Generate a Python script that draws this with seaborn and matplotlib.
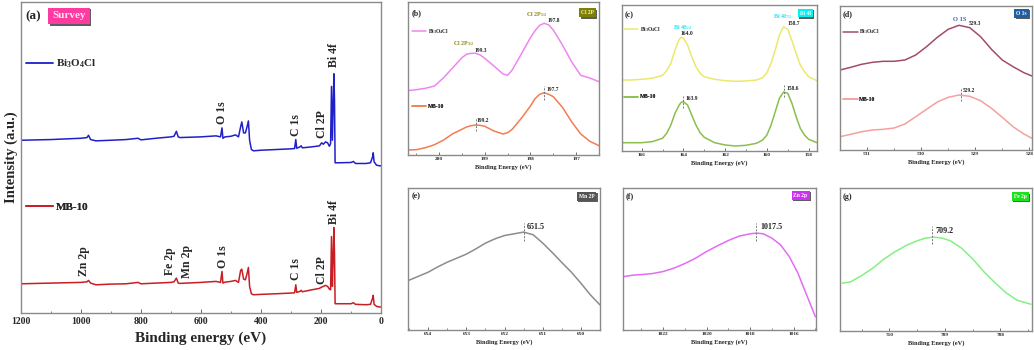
import matplotlib
matplotlib.use("Agg")
import matplotlib.pyplot as plt
import matplotlib.patheffects as pe
from matplotlib.lines import Line2D
from matplotlib.ticker import MultipleLocator
import seaborn as sns

# ---- (a) survey spectra ----
survey_be = [1200, 1100, 1000, 980, 975, 968, 950, 900, 850, 810, 800, 750, 700, 690, 682, 676, 670,
             600, 550, 535, 530, 527, 520, 500, 485, 475, 468, 464, 458, 452, 446, 442, 438, 432, 425,
             400, 350, 300, 288, 284, 281, 270, 266, 262, 230, 205, 198, 192, 185, 178, 172, 168, 165,
             162, 159, 157, 155, 153, 140, 100, 92, 85, 50, 35, 28, 26, 23, 15, 5, 0]
bi3o4cl_survey = [173.3, 174.0, 175.3, 176.0, 178.3, 174.0, 172.7, 173.3, 174.0, 175.3, 173.7, 175.3, 176.7,
                  177.3, 182.3, 176.7, 176.0, 176.7, 177.7, 176.7, 185.7, 175.3, 176.7, 177.3, 178.7, 176.7,
                  186.7, 191.7, 180.7, 180.7, 187.3, 192.7, 173.3, 164.0, 162.7, 163.3, 164.0, 164.7, 165.0,
                  174.0, 165.3, 166.7, 167.7, 165.7, 166.7, 167.7, 170.7, 169.3, 171.7, 170.7, 167.3, 170.0,
                  227.3, 173.3, 213.3, 240.0, 213.3, 150.7, 150.7, 151.0, 152.0, 150.0, 150.0, 150.7, 156.7,
                  160.7, 151.7, 148.3, 147.7, 147.7]
mb10_survey = [29.3, 30.0, 30.7, 31.3, 32.7, 30.0, 28.3, 29.0, 29.3, 30.7, 29.3, 30.0, 30.7,
               31.3, 35.0, 30.0, 29.7, 30.7, 31.7, 30.7, 41.7, 30.0, 31.0, 31.7, 32.7, 30.7,
               42.7, 44.0, 34.0, 33.3, 40.0, 45.7, 26.7, 19.3, 18.3, 18.7, 19.3, 20.0, 20.3,
               28.3, 20.7, 21.7, 22.7, 21.3, 23.3, 24.7, 26.0, 26.7, 27.7, 26.7, 24.0, 23.3,
               76.7, 26.7, 60.0, 85.7, 60.0, 9.3, 9.3, 9.3, 10.3, 8.7, 8.3, 8.7, 15.0,
               17.7, 8.7, 6.7, 6.0, 6.0]
survey_top = [("O 1s", 529, 190), ("C 1s", 284, 178), ("Cl 2P", 198, 176), ("Bi 4f", 157, 247)]
survey_bottom = [("Zn 2p", 989, 37), ("Fe 2p", 703, 38), ("Mn 2p", 648, 35), ("O 1s", 528, 45),
                 ("C 1s", 284, 33), ("Cl 2P", 196, 29), ("Bi 4f", 157, 89)]

# ---- (b) Cl 2p ----
cl_be = [200.7, 200.5, 200.3, 200.1, 199.9, 199.7, 199.5, 199.4, 199.3, 199.2, 199.1, 199.0, 198.8, 198.6,
         198.5, 198.4, 198.2, 198.0, 197.9, 197.8, 197.7, 197.6, 197.5, 197.3, 197.1, 196.9, 196.7, 196.5]
cl_bi3o4cl = [64.3, 65.3, 66.7, 69.0, 77.3, 87.3, 97.3, 100.7, 101.7, 101.7, 100.0, 96.7, 89.0, 81.0,
              79.7, 85.0, 101.0, 117.3, 124.3, 129.7, 131.7, 130.0, 125.0, 110.0, 93.3, 79.7, 77.0, 73.3]
cl_mb10 = [5.0, 5.3, 7.3, 10.3, 15.0, 21.3, 25.7, 28.0, 29.3, 30.0, 29.7, 28.7, 24.0, 21.0,
           22.3, 25.7, 36.7, 49.0, 56.3, 60.7, 62.3, 60.7, 58.3, 47.7, 33.3, 21.0, 13.7, 9.3]

# ---- (c) Bi 4f ----
bi_be = [166.9, 166.5, 166.0, 165.5, 165.0, 164.8, 164.6, 164.4, 164.2, 164.1, 164.0, 163.8, 163.6, 163.4,
         163.2, 163.0, 162.5, 162.0, 161.5, 161.0, 160.5, 160.2, 160.0, 159.8, 159.6, 159.4, 159.2, 159.0,
         158.8, 158.6, 158.4, 158.2, 158.0, 157.6]
bi_bi3o4cl = [71.0, 71.0, 71.7, 72.7, 75.7, 80.3, 87.7, 101.0, 111.7, 113.7, 113.0, 106.0, 94.3, 84.3,
              77.7, 74.3, 71.7, 70.3, 69.7, 70.0, 71.0, 73.3, 78.3, 87.7, 101.0, 116.0, 124.3, 121.7,
              110.3, 97.7, 86.0, 79.3, 74.3, 70.3]
bi_mb10 = [8.3, 8.3, 8.3, 9.3, 12.7, 17.7, 26.0, 37.7, 46.0, 48.7, 49.3, 46.0, 36.0, 26.0,
           18.3, 13.7, 8.3, 6.0, 5.0, 5.7, 7.7, 11.0, 16.0, 26.0, 39.3, 52.7, 59.0, 57.7,
           47.7, 34.3, 22.7, 16.0, 11.7, 8.3]

# ---- (d) O 1s ----
o_be = [531.5, 531.3, 531.1, 530.9, 530.7, 530.5, 530.3, 530.1, 529.9, 529.7, 529.5, 529.3, 529.1, 528.9,
        528.7, 528.5, 528.3, 528.1, 527.95]
o_bi3o4cl = [80.0, 82.7, 85.7, 87.7, 88.7, 88.7, 90.0, 95.0, 103.3, 112.7, 120.7, 124.7, 122.3, 113.3,
             100.7, 90.0, 83.3, 77.3, 74.0]
o_mb10 = [13.3, 15.7, 18.3, 20.0, 20.7, 22.0, 26.0, 33.3, 40.7, 48.0, 52.7, 55.0, 53.7, 49.3,
          41.7, 32.7, 23.3, 16.0, 11.7]

# ---- (e) Mn 2p, (f) Zn 2p, (g) Fe 2p (MB-10) ----
mn_be = [654.5, 654.25, 654.0, 653.75, 653.5, 653.25, 653.0, 652.75, 652.5, 652.25, 652.0, 651.75, 651.5,
         651.25, 651.0, 650.75, 650.5, 650.25, 650.0, 649.75, 649.5]
mn_int = [49.7, 53.7, 57.7, 63.0, 67.7, 71.7, 75.7, 81.0, 86.7, 91.0, 94.3, 96.0, 97.7, 95.0, 86.7, 77.3,
          67.3, 57.7, 46.7, 35.0, 25.0]
zn_be = [1023.8, 1023.4, 1023.0, 1022.5, 1022.0, 1021.5, 1021.0, 1020.5, 1020.0, 1019.5, 1019.0, 1018.5,
         1018.0, 1017.7, 1017.4, 1017.0, 1016.6, 1016.2, 1015.8, 1015.4, 1015.0]
zn_int = [53.3, 54.7, 55.3, 56.3, 58.3, 61.7, 66.3, 71.7, 78.3, 84.0, 89.3, 93.7, 96.0, 96.7, 96.0, 91.7,
          85.0, 73.3, 56.7, 35.0, 13.3]
fe_be = [710.85, 710.7, 710.5, 710.3, 710.1, 709.9, 709.7, 709.5, 709.35, 709.2, 709.05, 708.9, 708.7,
         708.5, 708.3, 708.1, 707.9, 707.7, 707.45]
fe_int = [47.7, 49.0, 55.3, 62.7, 71.7, 79.0, 85.3, 90.0, 92.7, 93.7, 92.7, 90.0, 82.7, 72.0, 59.3, 48.3,
          38.3, 30.7, 26.7]

sns.set_theme(style="white")
plt.rcParams["font.family"] = ["Liberation Serif", "DejaVu Serif"]
plt.rcParams["font.weight"] = "bold"
plt.rcParams["mathtext.fontset"] = "custom"
plt.rcParams["mathtext.rm"] = "Liberation Serif:bold"
plt.rcParams["mathtext.bf"] = "Liberation Serif:bold"
plt.rcParams["mathtext.it"] = "Liberation Serif:bold"
plt.rcParams["mathtext.default"] = "bf"

W, H = 1034, 350
fig = plt.figure(figsize=(W / 100, H / 100), dpi=100)
FRAME = "#8a8a8a"


def px_axes(l, t, r, b):
    return fig.add_axes([l / W, 1 - b / H, (r - l) / W, (b - t) / H])


def style(ax, xlim, ylim, major, minor, fs, tl):
    ax.set_xlim(*xlim)
    ax.set_ylim(*ylim)
    ax.xaxis.set_major_locator(MultipleLocator(major))
    ax.xaxis.set_minor_locator(MultipleLocator(minor))
    ax.set_yticks([])
    ax.tick_params(axis="x", which="both", direction="in", bottom=True, labelsize=fs,
                   color="#555555", pad=1.5)
    ax.tick_params(axis="x", which="major", length=tl, width=0.6)
    ax.tick_params(axis="x", which="minor", length=tl * 0.6, width=0.5)
    for lbl in ax.get_xticklabels():
        lbl.set_fontweight("bold")
    for s in ax.spines.values():
        s.set_color(FRAME)
        s.set_linewidth(1.0)
    ax.set_ylabel("")


def one_legend(ax, color, label, x, y, fs, hl, lw):
    h = Line2D([0], [0], color=color, lw=lw)
    leg = ax.legend([h], [label], loc="center left", bbox_to_anchor=(x, y), frameon=False,
                    fontsize=fs, handlelength=hl, handletextpad=0.3, borderpad=0, borderaxespad=0)
    ax.add_artist(leg)


def tag(ax, x, y, text, fc, tc, fs):
    t = ax.text(x, y, text, transform=ax.transAxes, ha="center", va="center", fontsize=fs,
                color=tc, fontweight="bold",
                bbox=dict(boxstyle="square,pad=0.35", fc=fc, ec="none"))
    t.get_bbox_patch().set_path_effects([pe.withSimplePatchShadow(offset=(1, -1), shadow_rgbFace="k", alpha=0.7)])


def peak_mark(ax, x, y0, y1, tx, ty, text, fs):
    ax.vlines(x, y0, y1, colors="#777777", linestyles=(0, (2, 1.5)), lw=0.7)
    ax.text(tx, ty, text, fontsize=fs, fontweight="bold", ha="left", va="center", color="#222222")


# ---------- (a) ----------
ax = px_axes(21, 2, 381, 313)
sns.lineplot(x=survey_be, y=bi3o4cl_survey, ax=ax, color="#2020c8", lw=1.1, estimator=None)
sns.lineplot(x=survey_be, y=mb10_survey, ax=ax, color="#c81e24", lw=1.1, estimator=None)
style(ax, (1200, 0), (0, 312), 200, 100, 7, 3)
ax.tick_params(axis="x", pad=3)
ax.set_xlabel("Binding energy (eV)", fontsize=11, fontweight="bold", labelpad=4)
ax.set_ylabel("Intensity (a.u.)", fontsize=10.5, fontweight="bold", labelpad=2)
for name, x, y in survey_top + survey_bottom:
    ax.text(x, y, name, rotation=90, ha="center", va="bottom", fontsize=8.5, fontweight="bold")
one_legend(ax, "#2020c8", "Bi$_3$O$_4$Cl", 0.014, 0.80, 8, 2.4, 1.3)
one_legend(ax, "#c81e24", "MB-10", 0.014, 0.34, 8, 2.4, 1.3)
ax.text(0.035, 0.955, "(a)", transform=ax.transAxes, ha="center", va="center", fontsize=9.5,
        fontweight="bold")
tag(ax, 0.133, 0.955, "Survey", "#ff3aa0", "#ffe0f0", 8)

# ---------- (b) ----------
ax = px_axes(408, 2, 599, 155)
sns.lineplot(x=cl_be, y=cl_bi3o4cl, ax=ax, color="#ee86f0", lw=1.1, estimator=None)
sns.lineplot(x=cl_be, y=cl_mb10, ax=ax, color="#f47c52", lw=1.1, estimator=None)
style(ax, (200.68, 196.5), (0, 153), 1, 0.5, 3.8, 2)
ax.set_xlabel("Binding Energy (eV)", fontsize=4.6, fontweight="bold", labelpad=2)
ax.text(199.46, 111.7, "Cl 2P$_{3/2}$", color="#8a8a10", fontsize=4.3, ha="center", va="center")
ax.text(199.22, 104.3, "199.3", fontsize=4, ha="left", va="center", color="#222222")
ax.text(197.86, 140.0, "Cl 2P$_{1/2}$", color="#8a8a10", fontsize=4.3, ha="center", va="center")
ax.text(197.63, 134.3, "197.8", fontsize=4, ha="left", va="center", color="#222222")
peak_mark(ax, 199.2, 24.3, 36.7, 199.17, 34.3, "199.2", 4)
peak_mark(ax, 197.7, 55.0, 69.0, 197.64, 65.7, "197.7", 4)
one_legend(ax, "#ee86f0", "Bi$_3$O$_4$Cl", 0.02, 0.81, 4, 2.6, 1.1)
one_legend(ax, "#f47c52", "MB-10", 0.02, 0.32, 4, 2.6, 1.1)
ax.text(0.02, 0.93, "(b)", transform=ax.transAxes, ha="left", va="center", fontsize=5.8)
tag(ax, 0.94, 0.93, "Cl 2P", "#7f7f00", "#f4f4d0", 4)

# ---------- (c) ----------
ax = px_axes(622, 5, 817, 151)
sns.lineplot(x=bi_be, y=bi_bi3o4cl, ax=ax, color="#ece86c", lw=1.1, estimator=None)
sns.lineplot(x=bi_be, y=bi_mb10, ax=ax, color="#8cbe4c", lw=1.1, estimator=None)
style(ax, (166.94, 157.6), (0, 146), 2, 1, 3.8, 2)
ax.set_xlabel("Binding Energy (eV)", fontsize=4.6, fontweight="bold", labelpad=2)
ax.text(164.01, 123.7, "Bi 4f$_{5/2}$", color="#22e4f4", fontsize=4.3, ha="center", va="center")
ax.text(164.14, 117.7, "164.0", fontsize=4, ha="left", va="center", color="#222222")
ax.text(159.23, 134.3, "Bi 4f$_{7/2}$", color="#22e4f4", fontsize=4.3, ha="center", va="center")
ax.text(159.03, 127.7, "158.7", fontsize=4, ha="left", va="center", color="#222222")
peak_mark(ax, 164.01, 42.7, 55.0, 163.91, 52.0, "163.9", 4)
peak_mark(ax, 159.16, 53.7, 66.0, 159.07, 62.7, "158.6", 4)
one_legend(ax, "#ece86c", "Bi$_3$O$_4$Cl", 0.01, 0.83, 4, 2.6, 1.1)
one_legend(ax, "#8cbe4c", "MB-10", 0.01, 0.37, 4, 2.6, 1.1)
ax.text(0.015, 0.93, "(c)", transform=ax.transAxes, ha="left", va="center", fontsize=5.8)
tag(ax, 0.94, 0.945, "Bi 4f", "#00f4f4", "#e8ffff", 4)

# ---------- (d) ----------
ax = px_axes(840, 6, 1032, 150)
sns.lineplot(x=o_be, y=o_bi3o4cl, ax=ax, color="#a24c6c", lw=1.1, estimator=None)
sns.lineplot(x=o_be, y=o_mb10, ax=ax, color="#f4a0a0", lw=1.1, estimator=None)
style(ax, (531.5, 527.95), (0, 144), 1, 0.5, 3.8, 2)
ax.set_xlabel("Binding Energy (eV)", fontsize=4.6, fontweight="bold", labelpad=2)
ax.text(529.28, 130.7, "O 1S", color="#3a5fb8", fontsize=4.6, ha="center", va="center")
ax.text(529.12, 126.7, "529.3", fontsize=4, ha="left", va="center", color="#222222")
peak_mark(ax, 529.27, 49.3, 61.7, 529.23, 60.0, "529.2", 4)
one_legend(ax, "#a24c6c", "Bi$_3$O$_4$Cl", 0.016, 0.82, 4, 2.6, 1.1)
one_legend(ax, "#f4a0a0", "MB-10", 0.016, 0.35, 4, 2.6, 1.1)
ax.text(0.016, 0.94, "(d)", transform=ax.transAxes, ha="left", va="center", fontsize=5.8)
tag(ax, 0.946, 0.95, "O 1s", "#1f5fa4", "#ffffff", 4)

# ---------- (e) ----------
ax = px_axes(408, 188, 600, 330)
sns.lineplot(x=mn_be, y=mn_int, ax=ax, color="#8c8c8c", lw=1.1, estimator=None)
style(ax, (654.53, 649.5), (0, 141.7), 1, 0.5, 3.8, 2)
ax.set_xlabel("Binding Energy (eV)", fontsize=4.6, fontweight="bold", labelpad=2)
peak_mark(ax, 651.5, 89.0, 106.7, 651.41, 102.7, "651.5", 5.8)
ax.text(0.02, 0.94, "(e)", transform=ax.transAxes, ha="left", va="center", fontsize=5.8)
tag(ax, 0.93, 0.94, "Mn 2P", "#555555", "#ffffff", 4)

# ---------- (f) ----------
ax = px_axes(623, 188, 816, 330)
sns.lineplot(x=zn_be, y=zn_int, ax=ax, color="#e46cf4", lw=1.1, estimator=None)
style(ax, (1023.84, 1014.97), (0, 141.7), 2, 1, 3.8, 2)
ax.set_xlabel("Binding Energy (eV)", fontsize=4.6, fontweight="bold", labelpad=2)
peak_mark(ax, 1017.71, 89.0, 106.7, 1017.53, 102.7, "1017.5", 5.8)
ax.text(0.016, 0.94, "(f)", transform=ax.transAxes, ha="left", va="center", fontsize=5.8)
tag(ax, 0.92, 0.95, "Zn 2p", "#cc33ee", "#ffffff", 4)

# ---------- (g) ----------
ax = px_axes(840, 188, 1032, 331)
sns.lineplot(x=fe_be, y=fe_int, ax=ax, color="#84f084", lw=1.1, estimator=None)
style(ax, (710.89, 707.43), (0, 142.7), 1, 0.5, 3.8, 2)
ax.set_xlabel("Binding Energy (eV)", fontsize=4.6, fontweight="bold", labelpad=2)
peak_mark(ax, 709.23, 86.7, 104.3, 709.17, 99.3, "709.2", 5.8)
ax.text(0.016, 0.94, "(g)", transform=ax.transAxes, ha="left", va="center", fontsize=5.8)
tag(ax, 0.94, 0.94, "Fe 2p", "#1ee01e", "#ffffff", 4)

fig.savefig("out.png", dpi=100)
